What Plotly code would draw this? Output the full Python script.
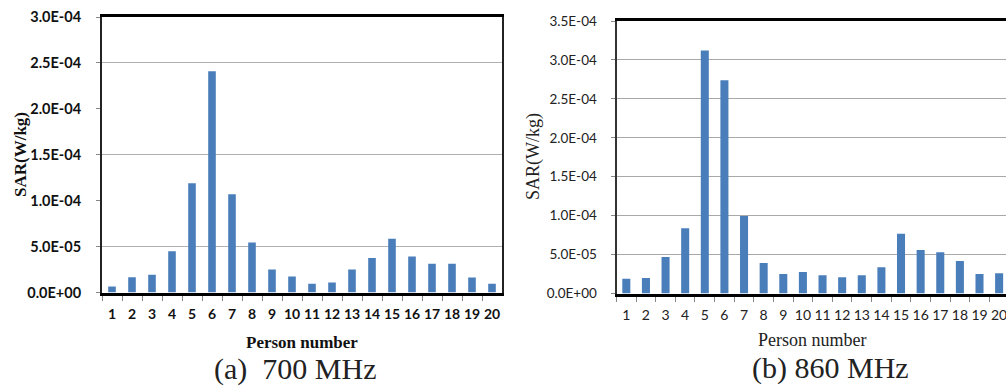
import plotly.graph_objects as go

persons = [str(i) for i in range(1, 21)]
sar_700 = [0.65e-5, 1.65e-5, 1.93e-5, 4.5e-5, 1.19e-4, 2.41e-4, 1.07e-4, 5.45e-5, 2.5e-5, 1.75e-5,
           0.95e-5, 1.1e-5, 2.5e-5, 3.75e-5, 5.86e-5, 3.93e-5, 3.13e-5, 3.13e-5, 1.64e-5, 0.95e-5]
sar_860 = [1.9e-5, 1.99e-5, 4.69e-5, 8.37e-5, 3.12e-4, 2.74e-4, 9.97e-5, 3.92e-5, 2.5e-5, 2.76e-5,
           2.34e-5, 2.08e-5, 2.34e-5, 3.36e-5, 7.68e-5, 5.59e-5, 5.29e-5, 4.17e-5, 2.5e-5, 2.59e-5]

ticks_700 = [0, 5e-5, 1e-4, 1.5e-4, 2e-4, 2.5e-4, 3e-4]
labels_700 = ["0.0E+00", "5.0E-05", "1.0E-04", "1.5E-04", "2.0E-04", "2.5E-04", "3.0E-04"]
grid_700 = [5e-5, 1.5e-4, 2.5e-4]
ticks_860 = [0, 5e-5, 1e-4, 1.5e-4, 2e-4, 2.5e-4, 3e-4, 3.5e-4]
labels_860 = ["0.0E+00", "5.0E-05", "1.0E-04", "1.5E-04", "2.0E-04", "2.5E-04", "3.0E-04", "3.5E-04"]

W, H = 1006, 388
BAR = "#4a7ebb"
SERIF = "Liberation Serif"
SANS = "Lato"

def px(x):
    return x / W

def py(y):
    return (H - y) / H

fig = go.Figure()
fig.add_trace(go.Bar(x=persons, y=sar_700, marker=dict(color=BAR, line=dict(width=0)),
                     width=0.38, xaxis="x", yaxis="y", showlegend=False))
fig.add_trace(go.Bar(x=persons, y=sar_860, marker=dict(color=BAR, line=dict(width=0)),
                     width=0.41, xaxis="x2", yaxis="y2", showlegend=False))

fig.update_layout(
    width=W, height=H,
    margin=dict(l=0, r=0, t=0, b=0, pad=0, autoexpand=False),
    paper_bgcolor="white", plot_bgcolor="white",
    xaxis=dict(domain=[px(102), px(502)], type="category", range=[-0.5, 19.5],
               showline=True, linecolor="black", linewidth=3, mirror=True,
               ticks="outside", tickson="boundaries", ticklen=5, tickcolor="#888",
               tickangle=0, automargin=False,
               tickfont=dict(family=SANS, size=14, color="#111", weight="bold"),
               ticklabelstandoff=7, showgrid=False, anchor="y", fixedrange=True),
    yaxis=dict(domain=[py(292.5), py(17)], range=[0, 3e-4],
               tickvals=ticks_700, ticktext=labels_700, automargin=False,
               showline=True, linecolor="#222", linewidth=2, mirror=True,
               ticks="outside", ticklen=4, tickcolor="#888",
               tickfont=dict(family=SANS, size=14.5, color="#111", weight="bold"),
               ticklabelstandoff=12, showgrid=False, zeroline=False,
               minor=dict(tickvals=grid_700, showgrid=True, gridcolor="#b0b0b0", gridwidth=1, ticks=""),
               anchor="x", fixedrange=True),
    xaxis2=dict(domain=[px(616.5), 1.0], type="category", range=[-0.5, 19.35],
                showline=True, linecolor="black", linewidth=3, mirror=True,
                ticks="outside", tickson="boundaries", ticklen=5, tickcolor="#888",
                tickangle=0, automargin=False,
                tickfont=dict(family=SANS, size=14, color="#222"),
                ticklabelstandoff=7, showgrid=False, anchor="y2", fixedrange=True),
    yaxis2=dict(domain=[py(293.5), py(21)], range=[0, 3.5e-4],
                tickvals=ticks_860, ticktext=labels_860, automargin=False,
                showline=True, linecolor="#333", linewidth=2,
                ticks="outside", ticklen=4, tickcolor="#888",
                tickfont=dict(family=SANS, size=13.5, color="#222"),
                ticklabelstandoff=11, showgrid=True, gridcolor="#a8a8a8", gridwidth=1,
                zeroline=False, anchor="x2", fixedrange=True),
)

ann = [
    dict(text="<b>SAR(W/kg)</b>", x=px(20), y=py(155), textangle=-90,
         font=dict(family=SERIF, size=17, color="#111")),
    dict(text="SAR(W/kg)", x=px(533), y=py(157), textangle=-90,
         font=dict(family=SERIF, size=18, color="#222")),
    dict(text="<b>Person number</b>", x=px(302), y=py(342),
         font=dict(family=SERIF, size=17, color="#111")),
    dict(text="Person number", x=px(812), y=py(340),
         font=dict(family=SERIF, size=18, color="#222")),
    dict(text="(a)  700 MHz", x=px(295), y=py(369),
         font=dict(family=SERIF, size=30, color="#222")),
    dict(text="(b) 860 MHz", x=px(830), y=py(368),
         font=dict(family=SERIF, size=30, color="#222")),
]
for a in ann:
    fig.add_annotation(xref="paper", yref="paper", showarrow=False,
                       xanchor="center", yanchor="middle", **a)

fig.write_html("out.html",
               config={"displayModeBar": False, "staticPlot": True},
               post_script="document.body.style.margin='0';document.body.style.overflow='hidden';")
